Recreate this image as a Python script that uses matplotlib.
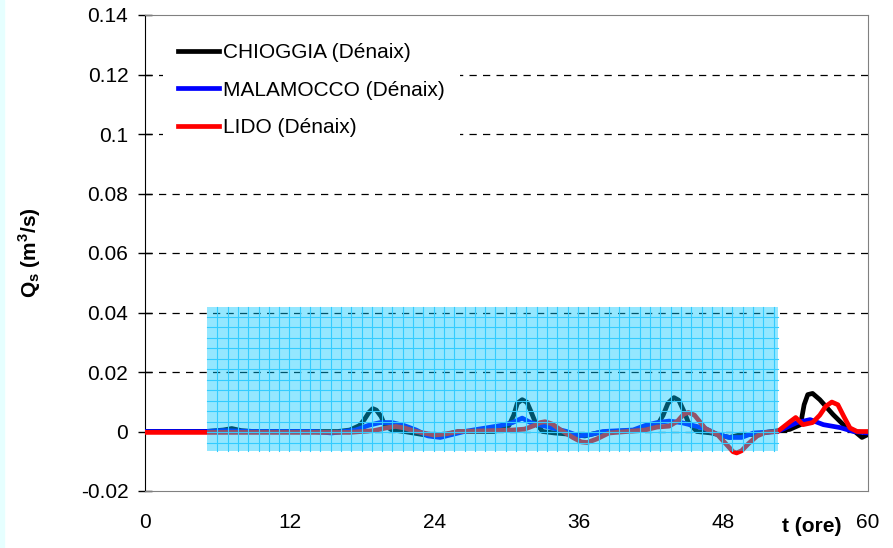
import numpy as np
import matplotlib.pyplot as plt
from matplotlib.patches import Rectangle

plt.rcParams['font.family'] = ['Liberation Sans', 'DejaVu Sans']
plt.rcParams['mathtext.fontset'] = 'custom'
plt.rcParams['mathtext.rm'] = 'Liberation Sans'
plt.rcParams['mathtext.bf'] = 'Liberation Sans:bold'

# dati
t_chioggia = [0, 5, 6.5, 7.2, 8, 9, 16, 17, 17.8, 18.2, 18.6, 18.9, 19.2, 19.6, 19.9, 20.5, 21.5, 23,
              24, 25, 26, 29, 30.2, 30.6, 30.9, 31.3, 31.7, 32.0, 32.4, 33, 34, 35.5, 36.5, 37.5,
              39, 41, 42.5, 43.0, 43.4, 43.9, 44.3, 44.7, 45.1, 45.8, 47, 48.5, 49.5, 50.5, 52,
              53.5, 54.4, 54.7, 55.0, 55.4, 56.0, 57.1, 58.1, 58.9, 59.5, 60]
q_chioggia = [0, 0, 0.0005, 0.001, 0.0003, 0, 0, 0.0005, 0.002, 0.004, 0.0065, 0.0077, 0.0072, 0.005,
              0.002, 0.0005, 0, -0.001, -0.0015, -0.001, 0, 0, 0.002, 0.0055, 0.0095, 0.0107,
              0.0098, 0.007, 0.003, 0, -0.0005, -0.001, -0.0015, -0.0005, 0, 0.0005, 0.002, 0.0055,
              0.0095, 0.0114, 0.0105, 0.007, 0.003, 0, -0.0005, -0.002, -0.001, -0.001, 0, 0.0007,
              0.0023, 0.009, 0.0124, 0.0128, 0.0107, 0.0057, 0.0017, 0, -0.002, -0.001]

t_malamocco = [0, 5, 6.5, 9, 14, 15.5, 16.5, 17.5, 18.5, 19.5, 20.5, 21.5, 22.5, 23.5, 24.5, 25.5,
               26.5, 28, 29.5, 30.5, 31.3, 32, 33, 34, 35, 36, 37, 38, 40.5, 41.5, 42.5, 43.5,
               44.5, 45.5, 46.5, 47.5, 48.5, 49.5, 50.5, 52.5, 54.1, 55.2, 56.3, 57.7, 58.8, 60]
q_malamocco = [0, 0, 0.0003, 0, 0, -0.0005, 0, 0.0005, 0.002, 0.003, 0.003, 0.002, 0.0005, -0.0015,
               -0.002, -0.001, 0, 0.001, 0.002, 0.003, 0.0045, 0.003, 0.002, 0.001, 0, -0.0015,
               -0.001, 0, 0.0005, 0.002, 0.003, 0.0035, 0.003, 0.002, 0.001, -0.001, -0.002, -0.002,
               -0.0005, 0, 0.003, 0.004, 0.0023, 0.0013, 0, -0.0005]

t_lido = [0, 5, 17, 18, 19, 20, 20.8, 21.5, 22.5, 24, 25, 26, 29, 30.5, 31.5, 32.3, 32.8, 33.2, 33.8,
          34.5, 35.5, 36.2, 36.7, 37.5, 38.5, 40, 41.5, 42.5, 43.5, 44.2, 44.7, 45.1, 45.6, 46.5,
          47.5, 48.4, 48.8, 49.1, 49.5, 50.1, 50.8, 51.5, 52.5, 53.6, 54.0, 54.6, 55.4, 56.0,
          56.5, 57.0, 57.5, 58.0, 58.5, 59.1, 60]
q_lido = [-0.0003, -0.0003, -0.0003, 0, 0.0003, 0.0012, 0.0017, 0.0012, 0, -0.0012, -0.0008, 0, 0.0003,
          0.0005, 0.0008, 0.002, 0.003, 0.0033, 0.0025, 0.0005, -0.002, -0.0035, -0.0037, -0.0025,
          -0.0005, 0, 0.0005, 0.0015, 0.0018, 0.0035, 0.0058, 0.0064, 0.0055, 0.001, -0.001, -0.005,
          -0.0068, -0.0072, -0.0065, -0.004, -0.0015, -0.0003, 0, 0.0035, 0.0047, 0.0023, 0.003,
          0.0055, 0.0085, 0.0099, 0.009, 0.005, 0.0012, 0, 0]

serie = ['CHIOGGIA (Dénaix)', 'MALAMOCCO (Dénaix)', 'LIDO (Dénaix)']
colori = ['black', '#0000ff', '#ff0000']

yticks = [-0.02, 0, 0.02, 0.04, 0.06, 0.08, 0.1, 0.12, 0.14]
ylabels = ['-0.02', '0', '0.02', '0.04', '0.06', '0.08', '0.1', '0.12', '0.14']
xticks = [0, 12, 24, 36, 48, 60]

# zona evidenziata
zona_t = [5.15, 52.5]
zona_q = [-0.0067, 0.0419]

fs = 15

fig = plt.figure(figsize=(8.93, 5.48), dpi=100)
fig.patches.append(Rectangle((0, 0), 4 / 893, 1, transform=fig.transFigure,
                             color='#e6ffff', zorder=0))
ax = fig.add_axes([145 / 893, 57 / 548, 723 / 893, 476 / 548])

for yy in yticks[1:-1]:
    ax.axhline(yy, color='black', lw=0.9, linestyle=(0, (5.8, 5)), zorder=1)

ax.plot(t_chioggia, q_chioggia, color=colori[0], lw=3.4, label=serie[0], zorder=3)
ax.plot(t_malamocco, q_malamocco, color=colori[1], lw=3.4, label=serie[1], zorder=3)
ax.plot(t_lido, q_lido, color=colori[2], lw=3.4, label=serie[2], zorder=3)

# rettangolo semitrasparente con griglia
ax.add_patch(Rectangle((zona_t[0], zona_q[0]), zona_t[1] - zona_t[0], zona_q[1] - zona_q[0],
                       facecolor=(0, 0.78, 1.0), alpha=0.42, edgecolor='none', zorder=4))
for xx in np.arange(zona_t[0] + 0.85, zona_t[1], 0.855):
    ax.plot([xx, xx], zona_q, color='#33ccff', lw=0.8, zorder=4.5)
for yy in np.arange(zona_q[1] - 0.0034, zona_q[0], -0.00352):
    ax.plot(zona_t, [yy, yy], color='#33ccff', lw=0.8, zorder=4.5)

ax.set_xlim(0, 60)
ax.set_ylim(-0.02, 0.14)
ax.set_yticks(yticks)
ax.set_yticklabels(ylabels)
ax.set_xticks(xticks)
ax.tick_params(axis='y', direction='inout', length=10, width=1, pad=7, labelsize=fs)
ax.tick_params(axis='x', length=0, pad=16, labelsize=fs)

for s in ['top', 'right', 'bottom']:
    ax.spines[s].set_color('#808080')
ax.spines['left'].set_color('black')

ax.set_xlabel('t (ore)', fontsize=fs, fontweight='bold', va='center')
ax.xaxis.set_label_coords(0.9225, -0.0756)
ax.set_ylabel(r'$\mathbf{Q_s}$ (m$^\mathbf{3}$/s)', fontsize=fs, fontweight='bold', va='center')
ax.yaxis.set_label_coords(-0.159, 0.5)

leg = ax.legend(loc='upper left', bbox_to_anchor=(0.025, 0.972), borderaxespad=0,
                fontsize=fs, frameon=True, facecolor='white', edgecolor='none', framealpha=1,
                fancybox=False, handlelength=2.0, handletextpad=0.2, labelspacing=0.9,
                borderpad=0.7)
leg.set_zorder(6)

fig.savefig('out.png', dpi=100)
